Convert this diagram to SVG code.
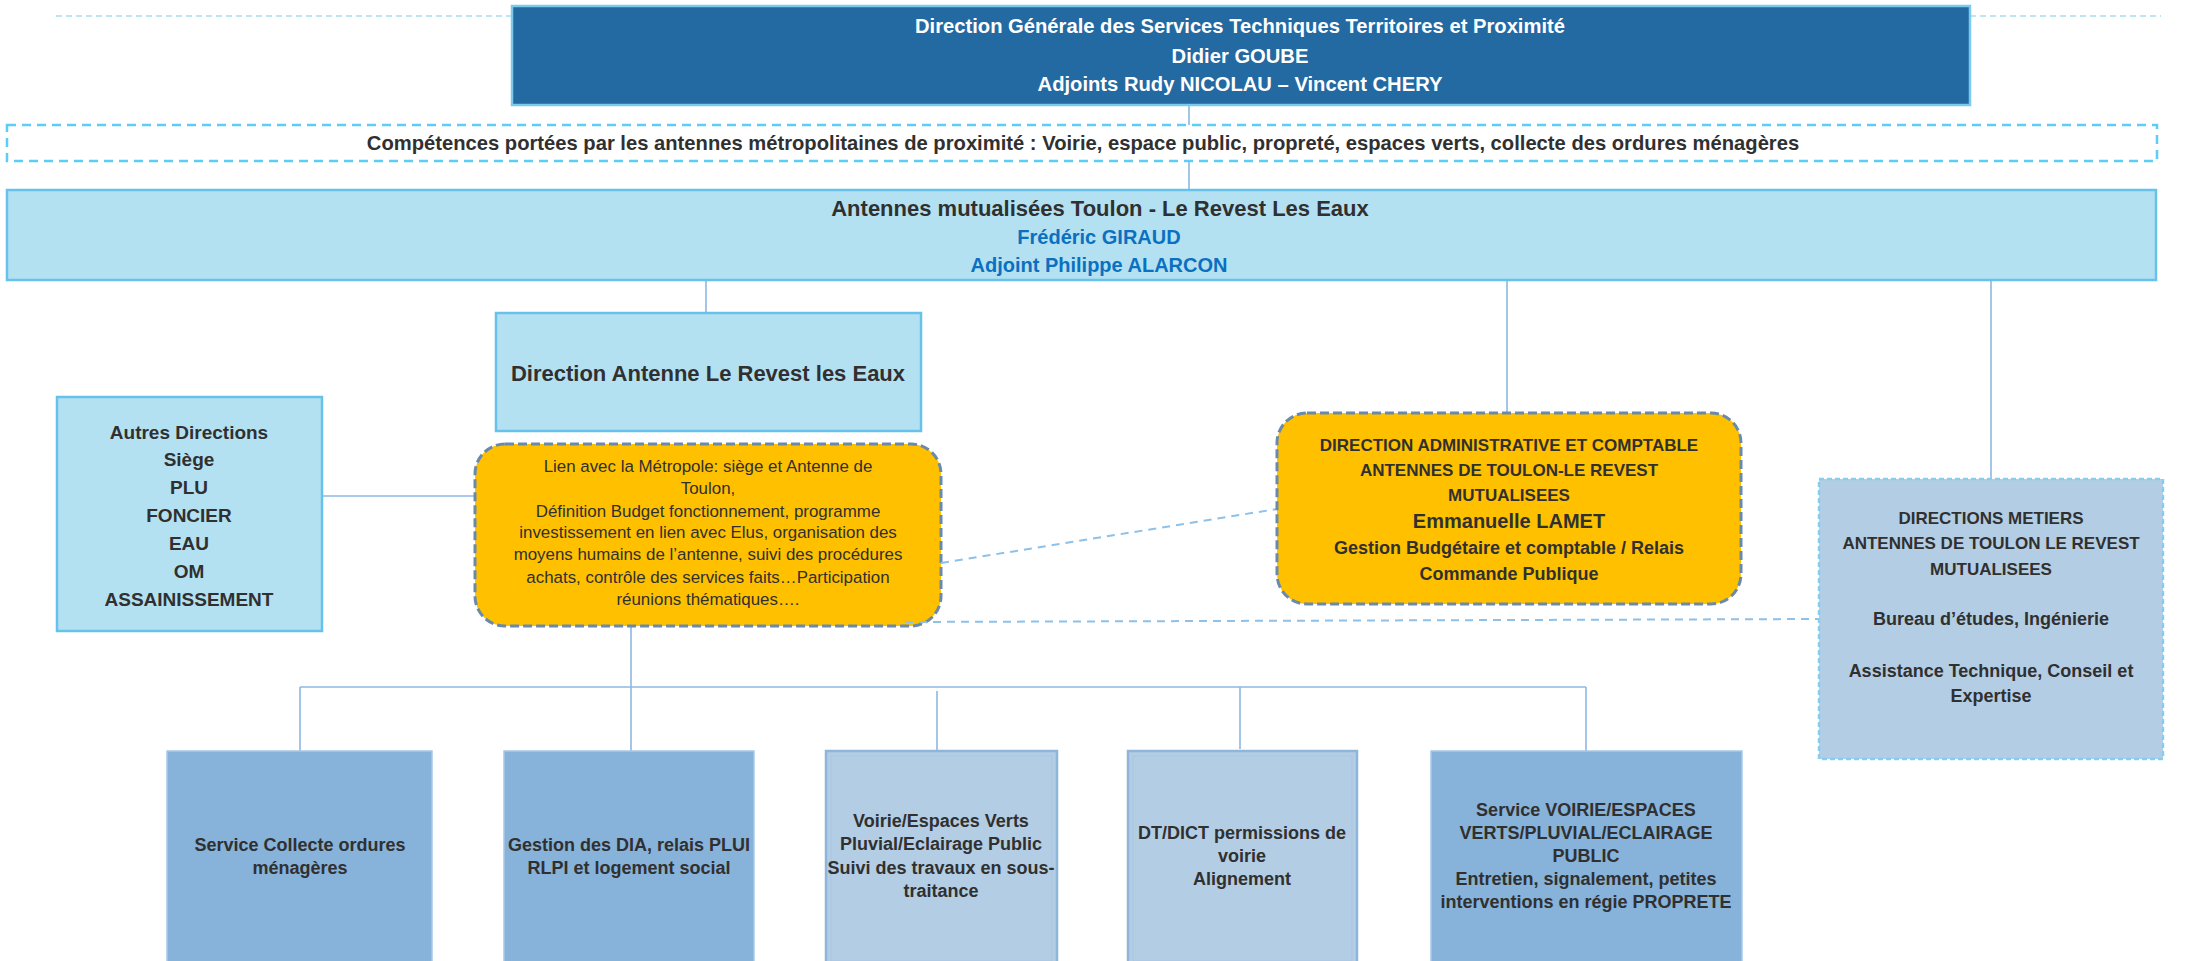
<svg xmlns="http://www.w3.org/2000/svg" width="2194" height="961" viewBox="0 0 2194 961">
<style>
text{font-family:"Liberation Sans",Arial,sans-serif;text-anchor:middle;fill:#303030}
.b{font-weight:bold}
.w{fill:#ffffff;font-weight:bold;font-size:20.2px}
.blue{fill:#0b70bf;font-weight:bold;font-size:20px}
.cyan{fill:#b4e1f2;stroke:#66c2ea;stroke-width:2.5}
.org{fill:#ffc000;stroke:#6a8aab;stroke-width:3;stroke-dasharray:9 4}
.mid{fill:#87b2d9;stroke:#a9c9e6;stroke-width:1.5}
.lite{fill:#b3cde4;stroke:#8fb6da;stroke-width:2.5}
.in{fill:none;stroke:#a7c5e2;stroke-width:1}
.ln{stroke:#8cb8e2;stroke-width:1.6;fill:none}
.dl{stroke:#8ec0e8;stroke-width:2;fill:none;stroke-dasharray:8 6}
.s18{font-size:18px;font-weight:bold}
.s17{font-size:17px;font-weight:bold}
.a19{font-size:19px;font-weight:bold}
.r{font-size:16.9px}
</style>
<rect width="2194" height="961" fill="#ffffff"/>
<g id="connectors">
<line x1="56" y1="16" x2="512" y2="16" stroke="#a8dcf0" stroke-width="1.6" stroke-dasharray="6 4"/>
<line x1="1970" y1="16" x2="2161" y2="16" stroke="#a8dcf0" stroke-width="1.6" stroke-dasharray="6 4"/>
<line class="ln" x1="1189" y1="105" x2="1189" y2="132"/>
<line class="ln" x1="1189" y1="161" x2="1189" y2="190"/>
<line class="ln" x1="706" y1="280" x2="706" y2="313"/>
<line class="ln" x1="1507" y1="280" x2="1507" y2="413"/>
<line class="ln" x1="1991" y1="280" x2="1991" y2="479"/>
<line class="ln" x1="322" y1="496" x2="475" y2="496"/>
<line class="ln" x1="631" y1="626" x2="631" y2="751"/>
<line class="ln" x1="300" y1="687" x2="1586" y2="687"/>
<line class="ln" x1="300" y1="687" x2="300" y2="751"/>
<line class="ln" x1="937" y1="691" x2="937" y2="751"/>
<line class="ln" x1="1240" y1="687" x2="1240" y2="749"/>
<line class="ln" x1="1586" y1="687" x2="1586" y2="751"/>
</g>
<g id="dg">
<rect x="512" y="6" width="1458" height="99" fill="#2369a2" stroke="#7cc9ec" stroke-width="2.5"/>
<text class="w" x="1240" y="33">Direction Générale des Services Techniques Territoires et Proximité</text>
<text class="w" x="1240" y="63">Didier GOUBE</text>
<text class="w" x="1240" y="91">Adjoints Rudy NICOLAU – Vincent CHERY</text>
</g>
<g id="competences">
<rect x="7" y="125" width="2150" height="36" fill="#ffffff" stroke="#5ccdf7" stroke-width="2.5" stroke-dasharray="9 6"/>
<text class="b" x="1083" y="150" font-size="20.2">Compétences portées par les antennes métropolitaines de proximité : Voirie, espace public, propreté, espaces verts, collecte des ordures ménagères</text>
</g>
<g id="antennes">
<rect class="cyan" x="7" y="190" width="2149" height="90"/>
<text class="b" x="1100" y="216" font-size="22">Antennes mutualisées Toulon - Le Revest Les Eaux</text>
<text class="blue" x="1099" y="244">Frédéric GIRAUD</text>
<text class="blue" x="1099" y="272">Adjoint Philippe ALARCON</text>
</g>
<g id="direction-antenne">
<rect class="cyan" x="496" y="313" width="425" height="118"/>
<text class="b" x="708" y="381" font-size="22">Direction Antenne Le Revest les Eaux</text>
</g>
<g id="autres">
<rect class="cyan" x="57" y="397" width="265" height="234"/>
<text class="a19" x="189" y="439">Autres Directions</text>
<text class="a19" x="189" y="466">Siège</text>
<text class="a19" x="189" y="494">PLU</text>
<text class="a19" x="189" y="522">FONCIER</text>
<text class="a19" x="189" y="550">EAU</text>
<text class="a19" x="189" y="578">OM</text>
<text class="a19" x="189" y="606">ASSAINISSEMENT</text>
</g>
<g id="lien-metropole">
<rect class="org" x="475" y="444" width="466" height="182" rx="30"/>
<text class="r" x="708" y="472">Lien avec la Métropole: siège et Antenne de</text>
<text class="r" x="708" y="494">Toulon,</text>
<text class="r" x="708" y="517">Définition Budget fonctionnement, programme</text>
<text class="r" x="708" y="538">investissement en lien avec Elus, organisation des</text>
<text class="r" x="708" y="560">moyens humains de l’antenne, suivi des procédures</text>
<text class="r" x="708" y="583">achats, contrôle des services faits…Participation</text>
<text class="r" x="708" y="605">réunions thématiques….</text>
</g>
<g id="dashed-links">
<line class="dl" x1="941" y1="563" x2="1277" y2="509"/>
<line class="dl" x1="905" y1="622" x2="1819" y2="619"/>
</g>
<g id="admin-comptable">
<rect class="org" x="1277" y="413" width="464" height="191" rx="30"/>
<text class="s17" x="1509" y="451">DIRECTION ADMINISTRATIVE ET COMPTABLE</text>
<text class="s17" x="1509" y="476">ANTENNES DE TOULON-LE REVEST</text>
<text class="s17" x="1509" y="501">MUTUALISEES</text>
<text class="b" x="1509" y="528" font-size="20">Emmanuelle LAMET</text>
<text class="s18" x="1509" y="554">Gestion Budgétaire et comptable / Relais</text>
<text class="s18" x="1509" y="580">Commande Publique</text>
</g>
<g id="metiers">
<rect x="1819" y="479" width="344" height="280" fill="#b3cde4" stroke="#86cdee" stroke-width="2.5" stroke-dasharray="5 3"/>
<text class="s17" x="1991" y="524">DIRECTIONS METIERS</text>
<text class="s17" x="1991" y="549">ANTENNES DE TOULON LE REVEST</text>
<text class="s17" x="1991" y="575">MUTUALISEES</text>
<text class="s18" x="1991" y="625">Bureau d’études, Ingénierie</text>
<text class="s18" x="1991" y="677">Assistance Technique, Conseil et</text>
<text class="s18" x="1991" y="702">Expertise</text>
</g>
<g id="collecte">
<rect class="mid" x="167" y="751" width="265" height="215"/>
<text class="s18" x="300" y="851">Service Collecte ordures</text>
<text class="s18" x="300" y="874">ménagères</text>
</g>
<g id="dia">
<rect class="mid" x="504" y="751" width="250" height="215"/>
<text class="s18" x="629" y="851">Gestion des DIA, relais PLUI</text>
<text class="s18" x="629" y="874">RLPI et logement social</text>
</g>
<g id="voirie-suivi">
<rect class="lite" x="826" y="751" width="231" height="215"/>
<rect class="in" x="831" y="756" width="221" height="205"/>
<text class="s18" x="941" y="827">Voirie/Espaces Verts</text>
<text class="s18" x="941" y="850">Pluvial/Eclairage Public</text>
<text class="s18" x="941" y="874">Suivi des travaux en sous-</text>
<text class="s18" x="941" y="897">traitance</text>
</g>
<g id="dtdict">
<rect class="lite" x="1128" y="751" width="229" height="215"/>
<rect class="in" x="1133" y="756" width="219" height="205"/>
<text class="s18" x="1242" y="839">DT/DICT permissions de</text>
<text class="s18" x="1242" y="862">voirie</text>
<text class="s18" x="1242" y="885">Alignement</text>
</g>
<g id="service-voirie">
<rect class="mid" x="1431" y="751" width="311" height="215"/>
<text class="s18" x="1586" y="816">Service VOIRIE/ESPACES</text>
<text class="s18" x="1586" y="839">VERTS/PLUVIAL/ECLAIRAGE</text>
<text class="s18" x="1586" y="862">PUBLIC</text>
<text class="s18" x="1586" y="885">Entretien, signalement, petites</text>
<text class="s18" x="1586" y="908">interventions en régie PROPRETE</text>
</g>
</svg>
